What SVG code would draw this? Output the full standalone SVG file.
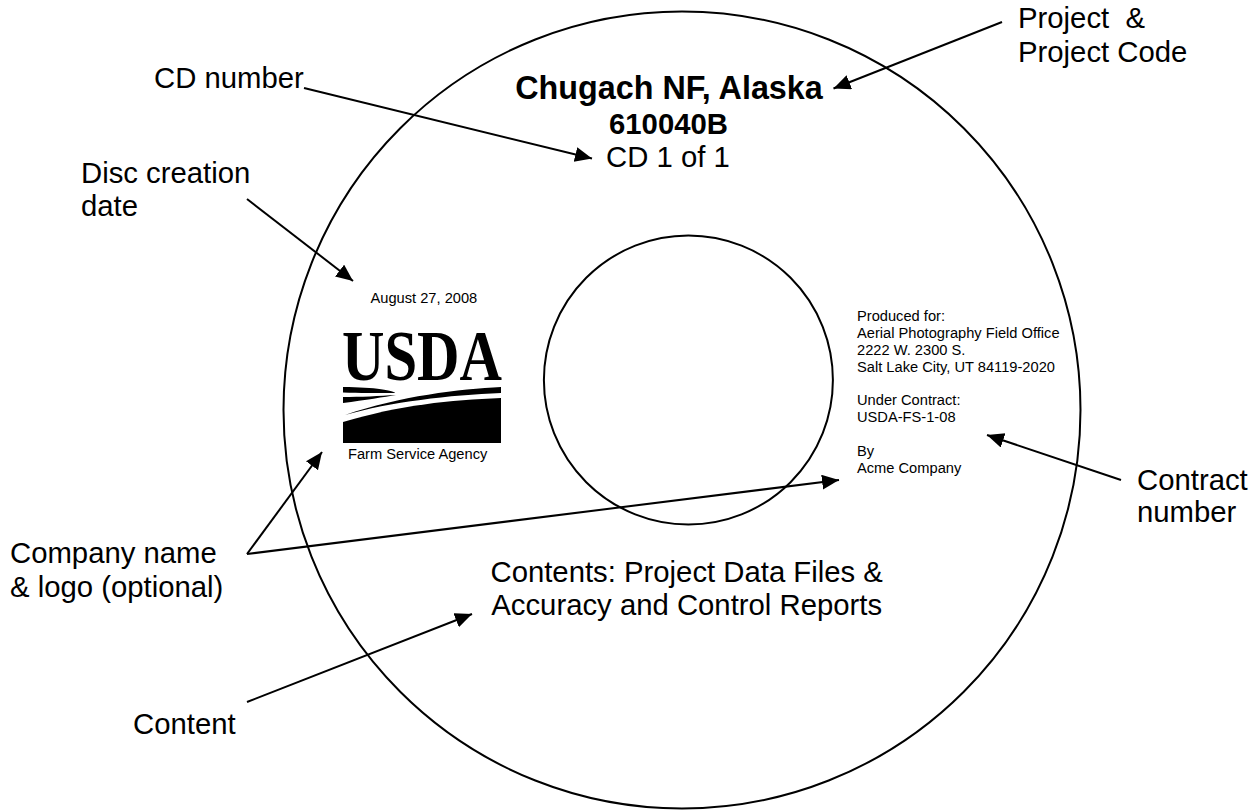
<svg xmlns="http://www.w3.org/2000/svg" width="1257" height="811" viewBox="0 0 1257 811">
<style>
text{font-family:"Liberation Sans",Arial,sans-serif;fill:#000}
.l{font-size:29.3px}
.s{font-size:14.67px}
.disc{fill:none;stroke:#000;stroke-width:2}
.a{stroke:#000;stroke-width:2;fill:none;marker-end:url(#h)}
</style>
<defs><marker id="h" markerUnits="userSpaceOnUse" markerWidth="18" markerHeight="16" refX="17" refY="7.500" orient="auto"><path d="M0 0L17 7.500L0 15z" fill="#000"/></marker></defs>
<rect width="1257" height="811" fill="#fff"/>
<g id="disc"><circle class="disc" cx="682" cy="410" r="398.5"/><circle class="disc" cx="688.4" cy="380" r="144.5"/></g>
<g id="logo">
<text x="342" y="380" font-size="71" font-weight="bold" style="font-family:'Liberation Serif',serif" textLength="160" lengthAdjust="spacingAndGlyphs">USDA</text>
<path d="M343 387C375 387 395 391 395 393C375 393 360 393 343 392.500z"/>
<path d="M343 397V403C365 400 385 397 396 395C380 396 360 397 343 397z"/>
<path d="M345 415C400 396 460 389 501 387V393C450 395 390 402 345 415z"/>
<path d="M343 422C400 405 450 400 501 398V443H343z"/>
<text x="348" y="459" class="s">Farm Service Agency</text>
</g>
<g id="label-text">
<text x="669" y="99" font-size="32.300" font-weight="bold" text-anchor="middle">Chugach NF, Alaska</text>
<text x="668.500" y="134" class="l" font-weight="bold" text-anchor="middle">610040B</text>
<text x="668" y="167" class="l" text-anchor="middle">CD 1 of 1</text>
<text x="370.500" y="303" class="s">August 27, 2008</text>
<text class="s"><tspan x="857" y="321">Produced for:</tspan><tspan x="857" y="338">Aerial Photography Field Office</tspan><tspan x="857" y="355">2222 W. 2300 S.</tspan><tspan x="857" y="372">Salt Lake City, UT 84119-2020</tspan><tspan x="857" y="405">Under Contract:</tspan><tspan x="857" y="422">USDA-FS-1-08</tspan><tspan x="857" y="456">By</tspan><tspan x="857" y="473">Acme Company</tspan></text>
<text x="686.700" y="582" class="l" text-anchor="middle">Contents: Project Data Files &amp;</text>
<text x="686.700" y="615" class="l" text-anchor="middle">Accuracy and Control Reports</text>
</g>
<g id="callouts">
<text x="154" y="88" class="l">CD number</text>
<text x="81" y="183" class="l">Disc creation</text><text x="81" y="216" class="l">date</text>
<text x="1018" y="28" class="l" style="white-space:pre">Project  &amp;</text><text x="1018" y="62" class="l">Project Code</text>
<text x="1137" y="490" class="l">Contract</text><text x="1137" y="522" class="l">number</text>
<text x="10" y="563" class="l">Company name</text><text x="10" y="597" class="l">&amp; logo (optional)</text>
<text x="133" y="734" class="l">Content</text>
</g>
<g id="connectors">
<line class="a" x1="304" y1="88" x2="592" y2="158.500"/>
<line class="a" x1="1002" y1="22" x2="833.500" y2="88.500"/>
<line class="a" x1="247" y1="199" x2="353" y2="281"/>
<line class="a" x1="247" y1="554" x2="322" y2="452"/>
<line class="a" x1="247" y1="554" x2="839" y2="480"/>
<line class="a" x1="1121" y1="480" x2="987" y2="435"/>
<line class="a" x1="247" y1="702" x2="472" y2="614"/>
</g>
</svg>
